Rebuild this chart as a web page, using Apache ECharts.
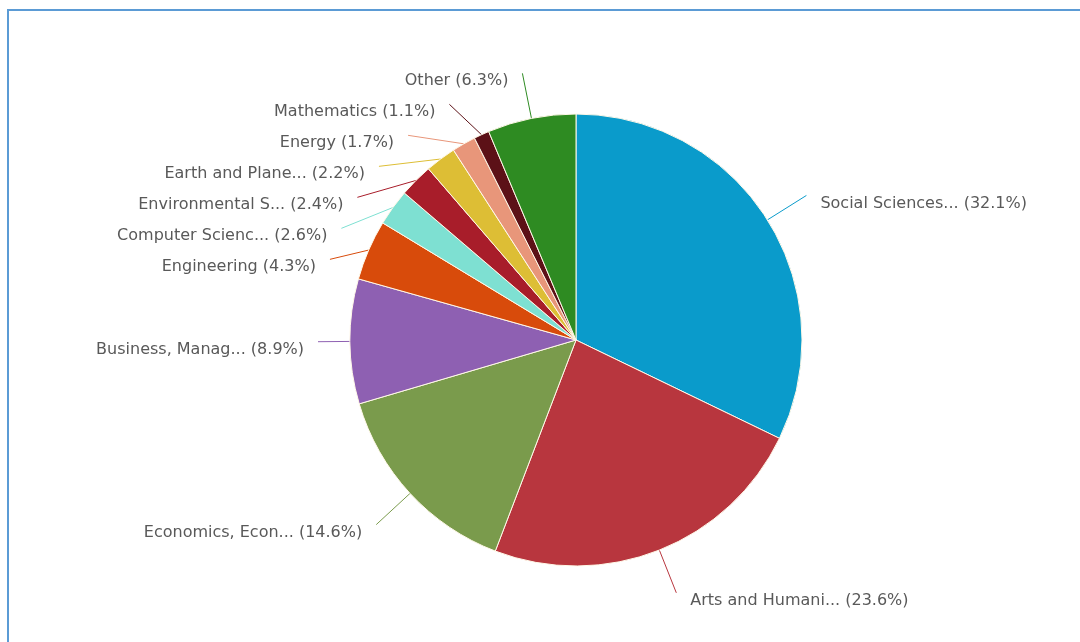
<!DOCTYPE html>
<html>
<head>
<meta charset="utf-8">
<script src="https://cdn.jsdelivr.net/npm/echarts@6/dist/echarts.min.js"></script>
<style>
  html, body { margin: 0; padding: 0; background: #fff; }
  #frame { position: absolute; left: 7px; top: 9px; width: 1080px; height: 640px;
           border-left: 2px solid #5B9BD5; border-top: 2px solid #5B9BD5; }
  #chart { position: absolute; left: 0; top: 0; width: 1080px; height: 642px; }
</style>
</head>
<body>
<div id="frame"></div>
<div id="chart"></div>
<script>
const categories = [
  'Social Sciences...', 'Arts and Humani...', 'Economics, Econ...', 'Business, Manag...',
  'Engineering', 'Computer Scienc...', 'Environmental S...', 'Earth and Plane...',
  'Energy', 'Mathematics', 'Other'
];
const values = [32.1, 23.6, 14.6, 8.9, 4.3, 2.6, 2.4, 2.2, 1.7, 1.1, 6.3];
const colors = ['#0A9BCB', '#B8363E', '#7A9B4C', '#8E60B2', '#D84B0B', '#7EE0D2',
                '#A81D2A', '#DDBE35', '#E8967A', '#5C1117', '#2E8B22'];

const chart = echarts.init(document.getElementById('chart'));
chart.setOption({
  animation: false,
  series: [{
    type: 'pie',
    center: [576, 340],
    radius: 226,
    startAngle: 90,
    clockwise: true,
    avoidLabelOverlap: true,
    data: categories.map((n, i) => ({ name: n, value: values[i], itemStyle: { color: colors[i] } })),
    itemStyle: { borderColor: '#FFF8E8', borderWidth: 1 },
    label: {
      show: true,
      position: 'outside',
      formatter: p => '{t|' + p.name + ' (' + p.value.toFixed(1) + '%)}',
      fontFamily: 'DejaVu Sans',
      fontSize: 16,
      color: '#595959',
      lineHeight: 32,
      padding: [3, 0, 0, 0],
      distanceToLabelLine: 14,
      rich: {
        t: {
          fontFamily: 'DejaVu Sans',
          fontSize: 16,
          color: '#595959',
          lineHeight: 20,
          padding: [13, 0, 0, 0]
        }
      }
    },
    labelLine: { show: true, length: 46, length2: 0, smooth: false, lineStyle: { width: 1 } },
    emphasis: { disabled: true }
  }]
});
</script>
</body>
</html>
